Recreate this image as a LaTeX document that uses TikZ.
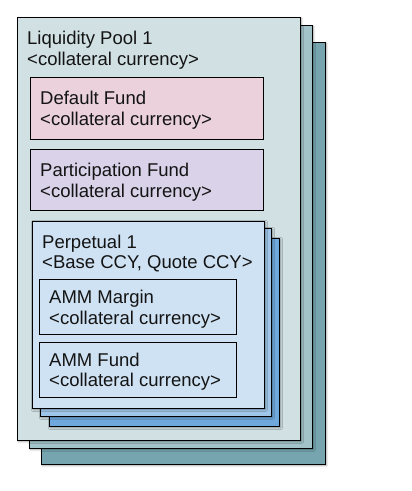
\documentclass[tikz,border=0pt]{standalone}
\usepackage{fontspec}
\setmainfont{Liberation Sans}
\usetikzlibrary{shadows.blur}
\definecolor{poolfront}{HTML}{D0E0E3}
\definecolor{poolmid}{HTML}{A2C4C9}
\definecolor{poolback}{HTML}{76A5AF}
\definecolor{defaultpink}{HTML}{EAD1DC}
\definecolor{partlilac}{HTML}{D9D2E9}
\definecolor{perpfront}{HTML}{CFE2F3}
\definecolor{perpmid}{HTML}{9FC5E8}
\definecolor{perpback}{HTML}{6FA8DC}
\definecolor{inkgray}{HTML}{141414}

\tikzset{
  sheet/.style={draw=black, line width=0.8pt,
    blur shadow={shadow xshift=1.5pt, shadow yshift=-1.5pt, shadow blur steps=6, shadow opacity=35}},
  fundbox/.style={draw=black, line width=0.8pt},
  boxlabel/.style={anchor=north west, inner sep=0pt, align=left, text=inkgray,
    font=\fontsize{18.5}{20.8}\selectfont}
}

\begin{document}
\begin{tikzpicture}[x=1pt, y=-1pt]
  \useasboundingbox (0,0) rectangle (412,491);

  % Liquidity pool, stacked sheets
  \draw[sheet, fill=poolback] (41,42) rectangle (325,464);
  \draw[sheet, fill=poolmid] (29,25) rectangle (312,448);
  \draw[sheet, fill=poolfront] (17,17) rectangle (300,440);
  \node[boxlabel] (pool) at (27,31) {Liquidity Pool 1\\<collateral currency>};

  % Default fund
  \draw[fundbox, fill=defaultpink] (30,77) rectangle (263,139);
  \node[boxlabel] (default) at (40,91) {Default Fund\\<collateral currency>};

  % Participation fund
  \draw[fundbox, fill=partlilac] (30,149) rectangle (263,210);
  \node[boxlabel] (participation) at (40,162.7) {Participation Fund\\<collateral currency>};

  % Perpetual, stacked sheets
  \draw[sheet, fill=perpback] (49,238) rectangle (279,426);
  \draw[sheet, fill=perpmid] (40,228) rectangle (271,416);
  \draw[sheet, fill=perpfront] (32,221) rectangle (264,408);
  \node[boxlabel] (perp) at (42,234.4) {Perpetual 1\\<Base CCY, Quote CCY>};

  % AMM margin and fund
  \draw[fundbox] (39,279) rectangle (236,334);
  \node[boxlabel] (ammmargin) at (49,290) {AMM Margin\\<collateral currency>};
  \draw[fundbox] (39,342) rectangle (236,397);
  \node[boxlabel] (ammfund) at (49,352.4) {AMM Fund\\<collateral currency>};
\end{tikzpicture}
\end{document}
